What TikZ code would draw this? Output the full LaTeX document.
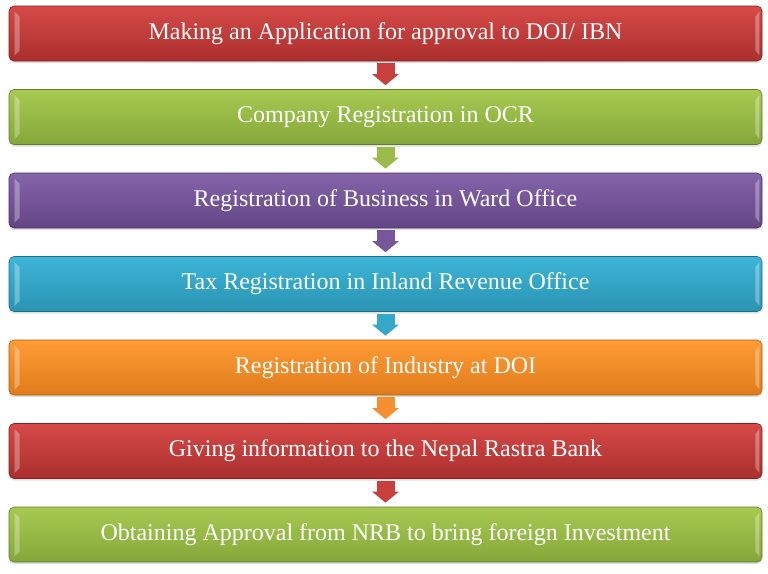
\documentclass[tikz,border=0pt]{standalone}
\usepackage{fontspec}
\setmainfont{Liberation Serif}
\usetikzlibrary{arrows.meta,positioning,shadows}

\definecolor{redtop}{HTML}{D64A48}
\definecolor{redbot}{HTML}{AA2F2D}
\definecolor{redmid}{HTML}{C8403E}
\definecolor{greentop}{HTML}{A8CA52}
\definecolor{greenbot}{HTML}{84A73A}
\definecolor{greenmid}{HTML}{9BBB4A}
\definecolor{purpletop}{HTML}{8564AA}
\definecolor{purplebot}{HTML}{634585}
\definecolor{purplemid}{HTML}{76579A}
\definecolor{cyantop}{HTML}{3DB6D8}
\definecolor{cyanbot}{HTML}{2A93B2}
\definecolor{cyanmid}{HTML}{35A7C8}
\definecolor{orangetop}{HTML}{FF9C35}
\definecolor{orangebot}{HTML}{E07B1C}
\definecolor{orangemid}{HTML}{F59030}

\tikzset{
  stage/.style 2 args={rounded corners=5pt, minimum width=753pt, minimum height=55pt,
    inner sep=0pt, text=white, font=\fontsize{24}{28}\selectfont,
    top color=#1, bottom color=#2, draw=#2!75!black, line width=0.6pt,
    drop shadow={opacity=0.25, shadow xshift=0pt, shadow yshift=-2pt}},
  flowarrow/.style={draw=#1, line width=18pt, -{Triangle[width=26pt,length=11pt]},
    shorten <=2pt, shorten >=4pt},
  bevel/.style={fill=white, opacity=0.3}
}

\begin{document}
\begin{tikzpicture}[x=1pt, y=-1pt, node distance=27.9pt]
\useasboundingbox (0,0) rectangle (768,573);

\node[stage={redtop}{redbot}] (apply) at (385.5,33.5) {Making an Application for approval to DOI/ IBN};
\node[stage={greentop}{greenbot}, below=of apply] (ocr) {Company Registration in OCR};
\node[stage={purpletop}{purplebot}, below=of ocr] (ward) {Registration of Business in Ward Office};
\node[stage={cyantop}{cyanbot}, below=of ward] (tax) {Tax Registration in Inland Revenue Office};
\node[stage={orangetop}{orangebot}, below=of tax] (industry) {Registration of Industry at DOI};
\node[stage={redtop}{redbot}, below=of industry] (nrb) {Giving information to the Nepal Rastra Bank};
\node[stage={greentop}{greenbot}, below=of nrb] (approval) {Obtaining Approval from NRB to bring foreign Investment};

\foreach \b in {apply,ocr,ward,tax,industry,nrb,approval} {
  \fill[bevel] ([xshift=6pt,yshift=-6pt]\b.north west) -- ([xshift=11pt,yshift=-11pt]\b.north west)
    -- ([xshift=11pt,yshift=11pt]\b.south west) -- ([xshift=6pt,yshift=6pt]\b.south west) -- cycle;
  \fill[bevel] ([xshift=-3pt,yshift=-6pt]\b.north east) -- ([xshift=-7pt,yshift=-11pt]\b.north east)
    -- ([xshift=-7pt,yshift=11pt]\b.south east) -- ([xshift=-3pt,yshift=6pt]\b.south east) -- cycle;
}

\draw[flowarrow=redmid] (apply) -- (ocr);
\draw[flowarrow=greenmid] (ocr) -- (ward);
\draw[flowarrow=purplemid] (ward) -- (tax);
\draw[flowarrow=cyanmid] (tax) -- (industry);
\draw[flowarrow=orangemid] (industry) -- (nrb);
\draw[flowarrow=redmid] (nrb) -- (approval);
\end{tikzpicture}
\end{document}
